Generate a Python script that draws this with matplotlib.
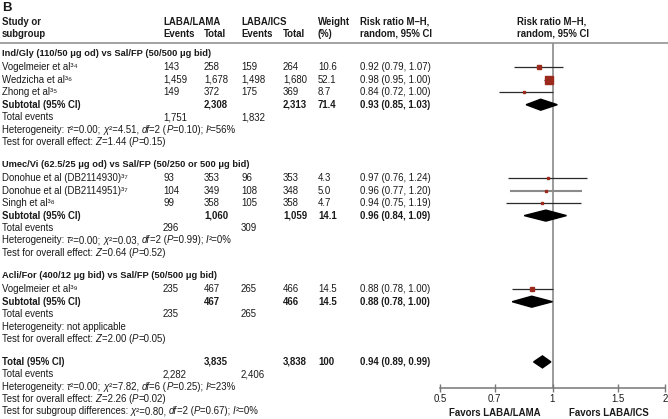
import matplotlib
matplotlib.use("Agg")
import matplotlib.pyplot as plt
from matplotlib.lines import Line2D
from matplotlib.patches import Polygon
import numpy as np

plt.rcParams['font.family'] = ['Liberation Sans', 'DejaVu Sans']

# ---- data ----

group_titles = ["Ind/Gly (110/50 \u03bcg od) vs Sal/FP (50/500 \u03bcg bid)",
                "Umec/Vi (62.5/25 \u03bcg od) vs Sal/FP (50/250 or 500 \u03bcg bid)",
                "Acli/For (400/12 \u03bcg bid) vs Sal/FP (50/500 \u03bcg bid)"]

study_names = [["Vogelmeier et al", "Wedzicha et al", "Zhong et al"],
               ["Donohue et al (DB2114930)", "Donohue et al (DB2114951)", "Singh et al"],
               ["Vogelmeier et al"]]
study_refs = [["34", "36", "35"], ["37", "37", "38"], ["39"]]

events_lama = [[143, 1459, 149], [93, 104, 99], [235]]
total_lama = [[258, 1678, 372], [353, 349, 358], [467]]
events_ics = [[159, 1498, 175], [96, 108, 105], [265]]
total_ics = [[264, 1680, 369], [353, 348, 358], [466]]
weights = [[10.6, 52.1, 8.7], [4.3, 5.0, 4.7], [14.5]]
rr = [[0.92, 0.98, 0.84], [0.97, 0.96, 0.94], [0.88]]
rr_lo = [[0.79, 0.95, 0.72], [0.76, 0.77, 0.75], [0.78]]
rr_hi = [[1.07, 1.00, 1.00], [1.24, 1.20, 1.19], [1.00]]

sub_total_lama = [2308, 1060, 467]
sub_total_ics = [2313, 1059, 466]
sub_weight = [71.4, 14.1, 14.5]
sub_rr = [0.93, 0.96, 0.88]
sub_lo = [0.85, 0.84, 0.78]
sub_hi = [1.03, 1.09, 1.00]
sub_events_lama = [1751, 296, 235]
sub_events_ics = [1832, 309, 265]
sub_tau2 = ["0.00", "0.00", None]
sub_chi2 = ["4.51", "0.03", None]
sub_df = [2, 2, None]
sub_het_p = ["0.10", "0.99", None]
sub_i2 = [56, 0, None]
sub_z = ["1.44", "0.64", "2.00"]
sub_z_p = ["0.15", "0.52", "0.05"]

tot_lama, tot_ics, tot_weight = 3835, 3838, 100
tot_rr, tot_lo, tot_hi = 0.94, 0.89, 0.99
tot_events_lama, tot_events_ics = 2282, 2406
tot_het = ("0.00", "7.82", 6, "0.25", 23)
tot_z = ("2.26", "0.02")
subgroup_diff = ("0.80", 2, "0.67", 0)

x_ticks = [0.5, 0.7, 1, 1.5, 2]
x_tick_labels = ["0.5", "0.7", "1", "1.5", "2"]

# ---- layout ----

W, H = 668, 419
FS = 6.9
TXT = '#1a1a1a'
SQ = '#9c2a1c'
SUP = str.maketrans("0123456789", "\u2070\u00b9\u00b2\u00b3\u2074\u2075\u2076\u2077\u2078\u2079")

fig = plt.figure(figsize=(W / 100, H / 100), dpi=100)
renderer = fig.canvas.get_renderer()


def put(x, y, s, bold=False, size=FS, ha='left', italic=False):
    return fig.text(x / W, 1 - y / H, s, fontsize=size, ha=ha, va='center',
                    color=TXT, fontweight='bold' if bold else 'normal',
                    fontstyle='italic' if italic else 'normal')


def rich(x, y, parts):
    # parts: list of (text, italic) pieces laid side by side
    for s, it in parts:
        t = put(x, y, s, italic=it)
        x += t.get_window_extent(renderer).width


def het_parts(tau2, chi2, df, p, i2):
    return [("Heterogeneity: ", False), ("\u03c4", True), ("\u00b2=" + tau2 + "; ", False),
            ("\u03c7", True), ("\u00b2=" + chi2 + ", ", False), ("df", True),
            ("=" + str(df) + " (", False), ("P", True), ("=" + p + "); ", False),
            ("I", True), ("\u00b2=" + str(i2) + "%", False)]


def z_parts(z, p):
    return [("Test for overall effect: ", False), ("Z", True), ("=" + z + " (", False),
            ("P", True), ("=" + p + ")", False)]


col_ev1, col_tot1, col_ev2, col_tot2, col_w, col_rr = 163, 204, 241, 283, 318, 360

# header
put(2, 8, "B", bold=True, size=9.5)
put(2, 22, "Study or", bold=True)
put(2, 34, "subgroup", bold=True)
put(col_ev1, 22, "LABA/LAMA", bold=True)
put(col_ev1, 34, "Events", bold=True)
put(col_tot1, 34, "Total", bold=True)
put(col_ev2, 22, "LABA/ICS", bold=True)
put(col_ev2, 34, "Events", bold=True)
put(col_tot2, 34, "Total", bold=True)
put(col_w, 22, "Weight", bold=True)
put(col_w, 34, "(%)", bold=True)
put(col_rr, 22, "Risk ratio M\u2013H,", bold=True)
put(col_rr, 34, "random, 95% CI", bold=True)
put(517, 22, "Risk ratio M\u2013H,", bold=True)
put(517, 34, "random, 95% CI", bold=True)
fig.add_artist(Line2D([0, 1], [1 - 43 / H] * 2, color='#8a8a8a', lw=1.1))

# forest axes: y in pixel rows
ax = fig.add_axes([440 / W, (H - 388) / H, 225 / W, (388 - 43) / H])
ax.set_xscale('log')
ax.set_xlim(0.5, 2)
ax.set_ylim(388, 43)
ax.patch.set_alpha(0)
for s in ['top', 'right', 'left']:
    ax.spines[s].set_visible(False)
ax.spines['bottom'].set_color('#777777')
ax.spines['bottom'].set_linewidth(1.1)
ax.set_yticks([])
ax.minorticks_off()
ax.set_xticks(x_ticks)
ax.set_xticklabels(x_tick_labels)
ax.tick_params(axis='x', direction='inout', length=6, width=1, color='#777777',
               labelsize=FS, labelcolor=TXT, pad=1)
ax.axvline(1, color='#8a8a8a', lw=1.2, zorder=1)


def diamond(mid, lo, hi, y, h):
    ax.add_patch(Polygon([(lo, y), (mid, y - h), (hi, y), (mid, y + h)],
                         closed=True, color='black', zorder=3, clip_on=False))


step = 12.4
y = 54
for g in range(len(group_titles)):
    put(2, y, group_titles[g], bold=True, size=6.7)
    y += 13.5
    for i in range(len(study_names[g])):
        put(2, y, study_names[g][i] + study_refs[g][i].translate(SUP))
        put(col_ev1, y, f"{events_lama[g][i]:,}")
        put(col_tot1, y, f"{total_lama[g][i]:,}")
        put(col_ev2, y, f"{events_ics[g][i]:,}")
        put(col_tot2, y, f"{total_ics[g][i]:,}")
        put(col_w, y, f"{weights[g][i]:.1f}")
        put(col_rr, y, f"{rr[g][i]:.2f} ({rr_lo[g][i]:.2f}, {rr_hi[g][i]:.2f})")
        grey = (g == 1 and i == 1)
        ax.hlines(y, rr_lo[g][i], rr_hi[g][i], color='#8a8a8a' if grey else '#2a2a2a',
                  lw=1.5 if grey else 0.9, zorder=2)
        ax.plot(rr[g][i], y, marker='s', color=SQ, mec=SQ,
                ms=max(1.5, 0.7 * np.sqrt(weights[g][i])), zorder=4)
        y += step
    put(2, y, "Subtotal (95% CI)", bold=True)
    put(col_tot1, y, f"{sub_total_lama[g]:,}", bold=True)
    put(col_tot2, y, f"{sub_total_ics[g]:,}", bold=True)
    put(col_w, y, f"{sub_weight[g]:.1f}", bold=True)
    put(col_rr, y, f"{sub_rr[g]:.2f} ({sub_lo[g]:.2f}, {sub_hi[g]:.2f})", bold=True)
    diamond(sub_rr[g], sub_lo[g], sub_hi[g], y, 5.5)
    y += step
    put(2, y, "Total events")
    put(col_ev1, y, f"{sub_events_lama[g]:,}")
    put(col_ev2, y, f"{sub_events_ics[g]:,}")
    y += step
    if sub_tau2[g] is None:
        put(2, y, "Heterogeneity: not applicable")
    else:
        rich(2, y, het_parts(sub_tau2[g], sub_chi2[g], sub_df[g], sub_het_p[g], sub_i2[g]))
    y += step
    rich(2, y, z_parts(sub_z[g], sub_z_p[g]))
    y += 23

# overall
put(2, y, "Total (95% CI)", bold=True)
put(col_tot1, y, f"{tot_lama:,}", bold=True)
put(col_tot2, y, f"{tot_ics:,}", bold=True)
put(col_w, y, f"{tot_weight}", bold=True)
put(col_rr, y, f"{tot_rr:.2f} ({tot_lo:.2f}, {tot_hi:.2f})", bold=True)
diamond(tot_rr, tot_lo, tot_hi, y, 6)
y += step
put(2, y, "Total events")
put(col_ev1, y, f"{tot_events_lama:,}")
put(col_ev2, y, f"{tot_events_ics:,}")
y += step
rich(2, y, het_parts(*tot_het))
y += step
rich(2, y, z_parts(*tot_z))
y += step
rich(2, y, [("Test for subgroup differences: ", False), ("\u03c7", True),
            ("\u00b2=" + subgroup_diff[0] + ", ", False), ("df", True),
            ("=" + str(subgroup_diff[1]) + " (", False), ("P", True),
            ("=" + subgroup_diff[2] + "); ", False), ("I", True),
            ("\u00b2=" + str(subgroup_diff[3]) + "%", False)])

put(495, 413, "Favors LABA/LAMA", bold=True, ha='center')
put(609, 413, "Favors LABA/ICS", bold=True, ha='center')

fig.savefig("out.png", dpi=100)
